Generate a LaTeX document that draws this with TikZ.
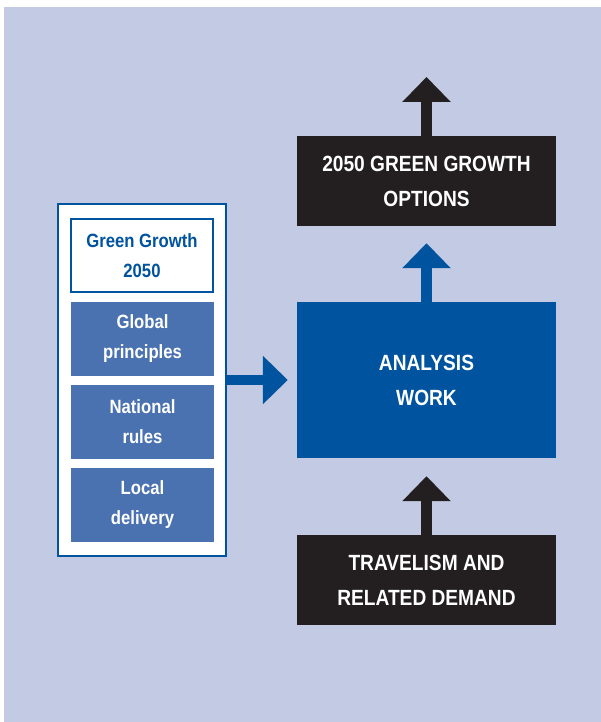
\documentclass[tikz,border=0pt]{standalone}
\usepackage{xcolor}
\usepackage{tikz}
\usepackage{fontspec}
\setmainfont[FakeStretch=0.87]{Liberation Sans}
\usetikzlibrary{arrows.meta,positioning}

\definecolor{panelbg}{HTML}{C3CAE3}
\definecolor{deepblue}{HTML}{00539F}
\definecolor{midblue}{HTML}{4A72B0}
\definecolor{darkbox}{HTML}{231F20}

\tikzset{
    bigbox/.style={minimum width=259pt, inner sep=0pt, align=center, text=white,
        font=\fontsize{22}{35}\selectfont\bfseries},
    levelbox/.style={fill=midblue, minimum width=143pt, minimum height=74pt, inner sep=0pt,
        align=center, text=white, font=\fontsize{19.2}{30}\selectfont\bfseries},
    blockarrow/.style={line width=10.5pt, -{Triangle[width=47pt,length=25pt]}}
}

\begin{document}
\begin{tikzpicture}[x=1pt,y=-1pt]
    \useasboundingbox (0,0) rectangle (601,722);
    \fill[panelbg] (4,7) rectangle (601,722);

    % left column
    \node[draw=deepblue, line width=2pt, fill=white, minimum width=168pt, minimum height=352pt, inner sep=0pt] (frame) at (142,380) {};
    \node[draw=deepblue, line width=2pt, fill=white, minimum width=142pt, minimum height=73pt, inner sep=0pt,
        align=center, text=deepblue, font=\fontsize{19.2}{30}\selectfont\bfseries] (title) at (142,255.5) {Green Growth\\2050};
    \node[levelbox] (global) at (142.5,339) {Global\\principles};
    \node[levelbox] (national) at (142.5,421.5) {National\\rules};
    \node[levelbox] (local) at (142.5,505) {Local\\delivery};

    % right column
    \node[bigbox, fill=deepblue, minimum height=156pt] (analysis) at (426.5,380) {ANALYSIS\\WORK};
    \node[bigbox, fill=darkbox, minimum height=90pt] (options) at (426.5,181) {2050 GREEN GROWTH\\OPTIONS};
    \node[bigbox, fill=darkbox, minimum height=90pt] (demand) at (426.5,580) {TRAVELISM AND\\RELATED DEMAND};
    \coordinate (out) at (426.5,77);

    % arrows
    \draw[blockarrow, deepblue, shorten >=9pt] (frame.east) -- (analysis.west);
    \draw[blockarrow, deepblue, shorten >=17pt] (analysis.north) -- (options.south);
    \draw[blockarrow, darkbox, shorten >=18pt] (demand.north) -- (analysis.south);
    \draw[blockarrow, darkbox] (options.north) -- (out);
\end{tikzpicture}
\end{document}
